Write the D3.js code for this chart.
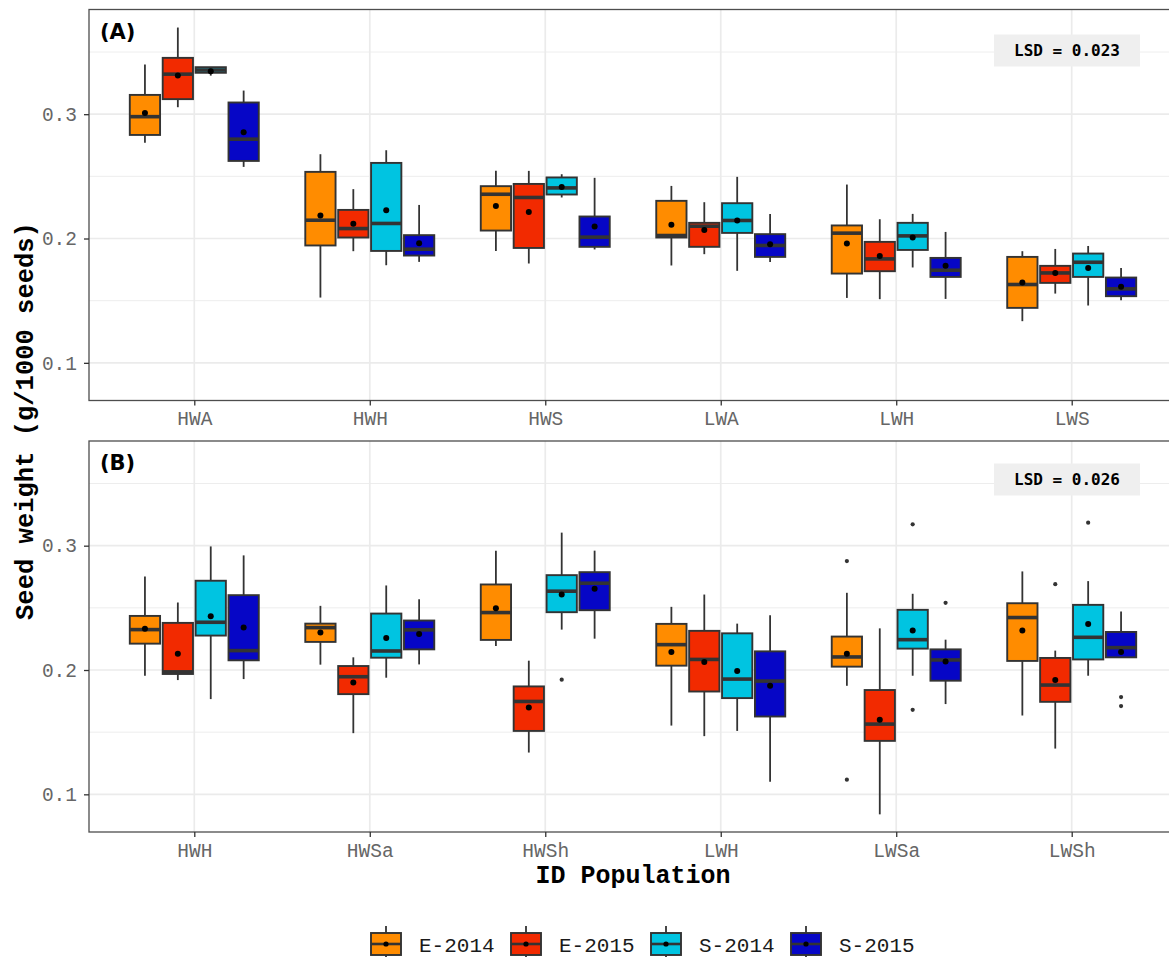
<!DOCTYPE html>
<html>
<head>
<meta charset="utf-8">
<script src="https://cdn.jsdelivr.net/npm/d3@7"></script>
<style>
  body { margin: 0; background: #fff; }
  svg { display: block; }
</style>
</head>
<body>
<div id="chart"></div>
<script>
// season-year groups and their fills
var groups = ["E-2014", "E-2015", "S-2014", "S-2015"];
var fills = ["#FF8C00", "#F22A00", "#00C4E1", "#0606C6"];

// populations for each panel
var catsA = ["HWA", "HWH", "HWS", "LWA", "LWH", "LWS"];
var catsB = ["HWH", "HWSa", "HWSh", "LWH", "LWSa", "LWSh"];

// one row per population: [lower whisker, Q1, median, Q3, upper whisker, mean]
var statsA_E2014 = [
  [0.277, 0.2833, 0.298, 0.3155, 0.340, 0.301],
  [0.1525, 0.1944, 0.2147, 0.2536, 0.2678, 0.2185],
  [0.190, 0.2064, 0.2356, 0.2421, 0.2544, 0.2262],
  [0.1783, 0.2008, 0.2024, 0.2303, 0.2423, 0.2110],
  [0.1522, 0.1718, 0.2043, 0.2105, 0.2434, 0.196],
  [0.1335, 0.1442, 0.163, 0.1852, 0.1898, 0.1646]
];
var statsA_E2015 = [
  [0.3056, 0.3121, 0.3322, 0.3453, 0.3697, 0.3311],
  [0.1898, 0.2008, 0.2080, 0.223, 0.2397, 0.2118],
  [0.1799, 0.1924, 0.233, 0.2439, 0.2544, 0.2214],
  [0.1874, 0.1933, 0.2099, 0.2126, 0.2292, 0.2069],
  [0.1512, 0.1737, 0.1836, 0.1973, 0.2155, 0.186],
  [0.1557, 0.1643, 0.1723, 0.178, 0.1916, 0.1723]
];
var statsA_S2014 = [
  [0.331, 0.3333, 0.3355, 0.3378, 0.3378, 0.3345],
  [0.1785, 0.19, 0.2121, 0.2608, 0.271, 0.2228],
  [0.233, 0.2354, 0.2407, 0.2491, 0.2517, 0.2415],
  [0.174, 0.2045, 0.2145, 0.2284, 0.2496, 0.2145],
  [0.1767, 0.1908, 0.2021, 0.2126, 0.2198, 0.2008],
  [0.1461, 0.1691, 0.1809, 0.1879, 0.194, 0.1763]
];
var statsA_S2015 = [
  [0.2576, 0.2624, 0.2799, 0.3094, 0.319, 0.2855],
  [0.1812, 0.1863, 0.1914, 0.2027, 0.227, 0.1962],
  [0.1912, 0.1933, 0.2011, 0.2177, 0.2488, 0.2097],
  [0.1812, 0.1852, 0.1944, 0.2035, 0.2198, 0.1954],
  [0.1514, 0.1691, 0.1745, 0.1844, 0.2053, 0.178],
  [0.1504, 0.1536, 0.1595, 0.1686, 0.1763, 0.1611]
];

var statsB_E2014 = [
  [0.1954, 0.2212, 0.2325, 0.2435, 0.2752, 0.2331],
  [0.2043, 0.2226, 0.2341, 0.2373, 0.2516, 0.2301],
  [0.2194, 0.2242, 0.2462, 0.2688, 0.296, 0.2497],
  [0.1553, 0.2035, 0.2204, 0.2371, 0.2508, 0.2145],
  [0.1873, 0.2027, 0.2105, 0.2269, 0.2621, 0.2131],
  [0.1634, 0.2073, 0.2422, 0.2537, 0.2793, 0.2317]
];
var statsB_E2015 = [
  [0.1919, 0.1968, 0.1985, 0.2379, 0.2543, 0.2131],
  [0.1492, 0.1806, 0.1946, 0.2032, 0.2102, 0.190],
  [0.1336, 0.151, 0.1747, 0.1868, 0.2075, 0.1698],
  [0.1468, 0.1827, 0.2085, 0.2315, 0.2607, 0.2065],
  [0.0839, 0.143, 0.1565, 0.1839, 0.2335, 0.1599],
  [0.1368, 0.1744, 0.1879, 0.2097, 0.2156, 0.1919]
];
var statsB_S2014 = [
  [0.1766, 0.2277, 0.2384, 0.2718, 0.2994, 0.2432],
  [0.1938, 0.2099, 0.2153, 0.2454, 0.268, 0.2258],
  [0.2325, 0.2465, 0.2634, 0.2763, 0.3105, 0.2607],
  [0.151, 0.1774, 0.1927, 0.2295, 0.2373, 0.1992],
  [0.1954, 0.2172, 0.2244, 0.2484, 0.2613, 0.2317],
  [0.1954, 0.2085, 0.2263, 0.2524, 0.2715, 0.2371]
];
var statsB_S2015 = [
  [0.1927, 0.2078, 0.2156, 0.2602, 0.2922, 0.2341],
  [0.2045, 0.2166, 0.2323, 0.2398, 0.2569, 0.229],
  [0.2252, 0.2481, 0.2698, 0.2787, 0.296, 0.2653],
  [0.1102, 0.1626, 0.1911, 0.215, 0.244, 0.1873],
  [0.1726, 0.1914, 0.2081, 0.2166, 0.2244, 0.2069],
  [0.2102, 0.2102, 0.218, 0.2306, 0.247, 0.2145]
];

// outlying points in panel B: [population, group, value]
var outliersB = [
  ["HWSh", "S-2014", 0.1922],
  ["LWSa", "E-2014", 0.2876],
  ["LWSa", "E-2014", 0.1118],
  ["LWSa", "S-2014", 0.3172],
  ["LWSa", "S-2014", 0.168],
  ["LWSa", "S-2015", 0.254],
  ["LWSh", "E-2015", 0.269],
  ["LWSh", "S-2014", 0.3185],
  ["LWSh", "S-2015", 0.1782],
  ["LWSh", "S-2015", 0.171]
];

var yTicks = [0.1, 0.2, 0.3];
var yMinor = [0.15, 0.25, 0.35];
var lsdA = "LSD = 0.023", lsdB = "LSD = 0.026";

var W = 1169, H = 957;
var left = 89, right = 1177, panelH = 391;
var mono = "'Liberation Mono', 'Courier New', monospace";

var svg = d3.select("#chart").append("svg")
  .attr("width", W).attr("height", H);
svg.append("rect").attr("width", W).attr("height", H).attr("fill", "#fff");

var color = d3.scaleOrdinal().domain(groups).range(fills);

function toRows(cats, arrs) {
  var rows = [];
  cats.forEach(function(c, i) {
    groups.forEach(function(g, j) {
      var s = arrs[j][i];
      rows.push({cat: c, grp: g, lo: s[0], q1: s[1], med: s[2], q3: s[3], hi: s[4], mean: s[5]});
    });
  });
  return rows;
}

var panels = [
  {tag: "(A)", top: 9.5, cats: catsA, rows: toRows(catsA, [statsA_E2014, statsA_E2015, statsA_S2014, statsA_S2015]), out: [], lsd: lsdA, lsdY: 25},
  {tag: "(B)", top: 441, cats: catsB, rows: toRows(catsB, [statsB_E2014, statsB_E2015, statsB_S2014, statsB_S2015]), out: outliersB, lsd: lsdB, lsdY: 22.5}
];

panels.forEach(function(p) {
  var g = svg.append("g").attr("transform", "translate(0," + p.top + ")");

  var x = d3.scalePoint().domain(p.cats).range([left, right]).padding(0.6);
  var half = x.step() * 0.375;
  var xg = d3.scaleBand().domain(groups).range([-half, half]).paddingInner(0.08).paddingOuter(0.04);
  var y = d3.scaleLinear().domain([0.0697, 0.3842]).range([panelH, 0]);
  var bw = xg.bandwidth();
  var cx = function(d) { return x(d.cat) + xg(d.grp) + bw / 2; };

  // grid
  g.selectAll(".minor").data(yMinor).join("line")
    .attr("x1", left).attr("x2", right)
    .attr("y1", function(d) { return y(d); }).attr("y2", function(d) { return y(d); })
    .attr("stroke", "#ebebeb").attr("stroke-width", 0.9);
  g.selectAll(".major").data(yTicks).join("line")
    .attr("x1", left).attr("x2", right)
    .attr("y1", function(d) { return y(d); }).attr("y2", function(d) { return y(d); })
    .attr("stroke", "#ebebeb").attr("stroke-width", 1.7);
  g.selectAll(".vgrid").data(p.cats).join("line")
    .attr("x1", function(d) { return x(d); }).attr("x2", function(d) { return x(d); })
    .attr("y1", 0).attr("y2", panelH)
    .attr("stroke", "#ebebeb").attr("stroke-width", 1.7);

  // LSD label
  g.append("rect").attr("x", 994).attr("y", p.lsdY)
    .attr("width", 146).attr("height", 32).attr("fill", "#efefef");
  g.append("text").attr("x", 1067).attr("y", p.lsdY + 21.5)
    .attr("text-anchor", "middle")
    .style("font-family", "'DejaVu Sans Mono', monospace")
    .style("font-weight", "bold").style("font-size", "16px")
    .text(p.lsd);

  var box = g.selectAll(".box").data(p.rows).join("g");

  // whiskers, box, median, mean
  box.append("line")
    .attr("x1", cx).attr("x2", cx)
    .attr("y1", function(d) { return y(d.hi); }).attr("y2", function(d) { return y(d.lo); })
    .attr("stroke", "#333").attr("stroke-width", 1.8);
  box.append("rect")
    .attr("x", function(d) { return cx(d) - bw / 2; })
    .attr("y", function(d) { return y(d.q3); })
    .attr("width", bw)
    .attr("height", function(d) { return y(d.q1) - y(d.q3); })
    .attr("fill", function(d) { return color(d.grp); })
    .attr("stroke", "#333").attr("stroke-width", 1.9);
  box.append("line")
    .attr("x1", function(d) { return cx(d) - bw / 2; })
    .attr("x2", function(d) { return cx(d) + bw / 2; })
    .attr("y1", function(d) { return y(d.med); }).attr("y2", function(d) { return y(d.med); })
    .attr("stroke", "#333").attr("stroke-width", 3.6);
  box.append("circle")
    .attr("cx", cx).attr("cy", function(d) { return y(d.mean); })
    .attr("r", 3).attr("fill", "#000");

  g.selectAll(".out").data(p.out).join("circle")
    .attr("cx", function(d) { return x(d[0]) + xg(d[1]) + bw / 2; })
    .attr("cy", function(d) { return y(d[2]); })
    .attr("r", 2.1).attr("fill", "#333");

  // panel tag
  g.append("text").attr("x", 100).attr("y", 29)
    .style("font-family", "'DejaVu Sans', sans-serif")
    .style("font-weight", "bold").style("font-size", "21px")
    .text(p.tag);

  // border
  g.append("rect").attr("x", left).attr("y", 0)
    .attr("width", right - left).attr("height", panelH)
    .attr("fill", "none").attr("stroke", "#4d4d4d").attr("stroke-width", 1.3);

  // axes
  var ya = g.append("g").attr("transform", "translate(" + left + ",0)")
    .call(d3.axisLeft(y).tickValues(yTicks).tickFormat(d3.format(".1f")).tickSize(5).tickPadding(7));
  var xa = g.append("g").attr("transform", "translate(0," + panelH + ")")
    .call(d3.axisBottom(x).tickSize(5).tickPadding(6));
  [ya, xa].forEach(function(a) {
    a.select(".domain").remove();
    a.selectAll("line").attr("stroke", "#333").attr("stroke-width", 1.3);
    a.selectAll("text").style("font-family", mono).style("font-size", "19.5px").attr("fill", "#666");
  });
});

// axis titles
svg.append("text")
  .attr("transform", "translate(33,421) rotate(-90)")
  .attr("text-anchor", "middle")
  .style("font-family", mono).style("font-weight", "bold").style("font-size", "25.5px")
  .text("Seed weight (g/1000 seeds)");
svg.append("text")
  .attr("x", 633).attr("y", 883)
  .attr("text-anchor", "middle")
  .style("font-family", mono).style("font-weight", "bold").style("font-size", "25px")
  .text("ID Population");

// legend
var leg = svg.append("g").selectAll("g").data(groups).join("g")
  .attr("transform", function(d, i) { return "translate(" + (371 + i * 140) + ",0)"; });
leg.append("line").attr("x1", 15).attr("x2", 15).attr("y1", 926).attr("y2", 962)
  .attr("stroke", "#333").attr("stroke-width", 1.8);
leg.append("rect").attr("x", 0).attr("y", 933).attr("width", 30).attr("height", 22)
  .attr("fill", function(d) { return color(d); })
  .attr("stroke", "#333").attr("stroke-width", 1.9);
leg.append("line").attr("x1", 0).attr("x2", 30).attr("y1", 944).attr("y2", 944)
  .attr("stroke", "#333").attr("stroke-width", 2.6);
leg.append("circle").attr("cx", 15).attr("cy", 944).attr("r", 2.6).attr("fill", "#000");
leg.append("text").attr("x", 48).attr("y", 952)
  .style("font-family", mono).style("font-size", "21px").attr("fill", "#1a1a1a")
  .text(function(d) { return d; });
</script>
</body>
</html>
